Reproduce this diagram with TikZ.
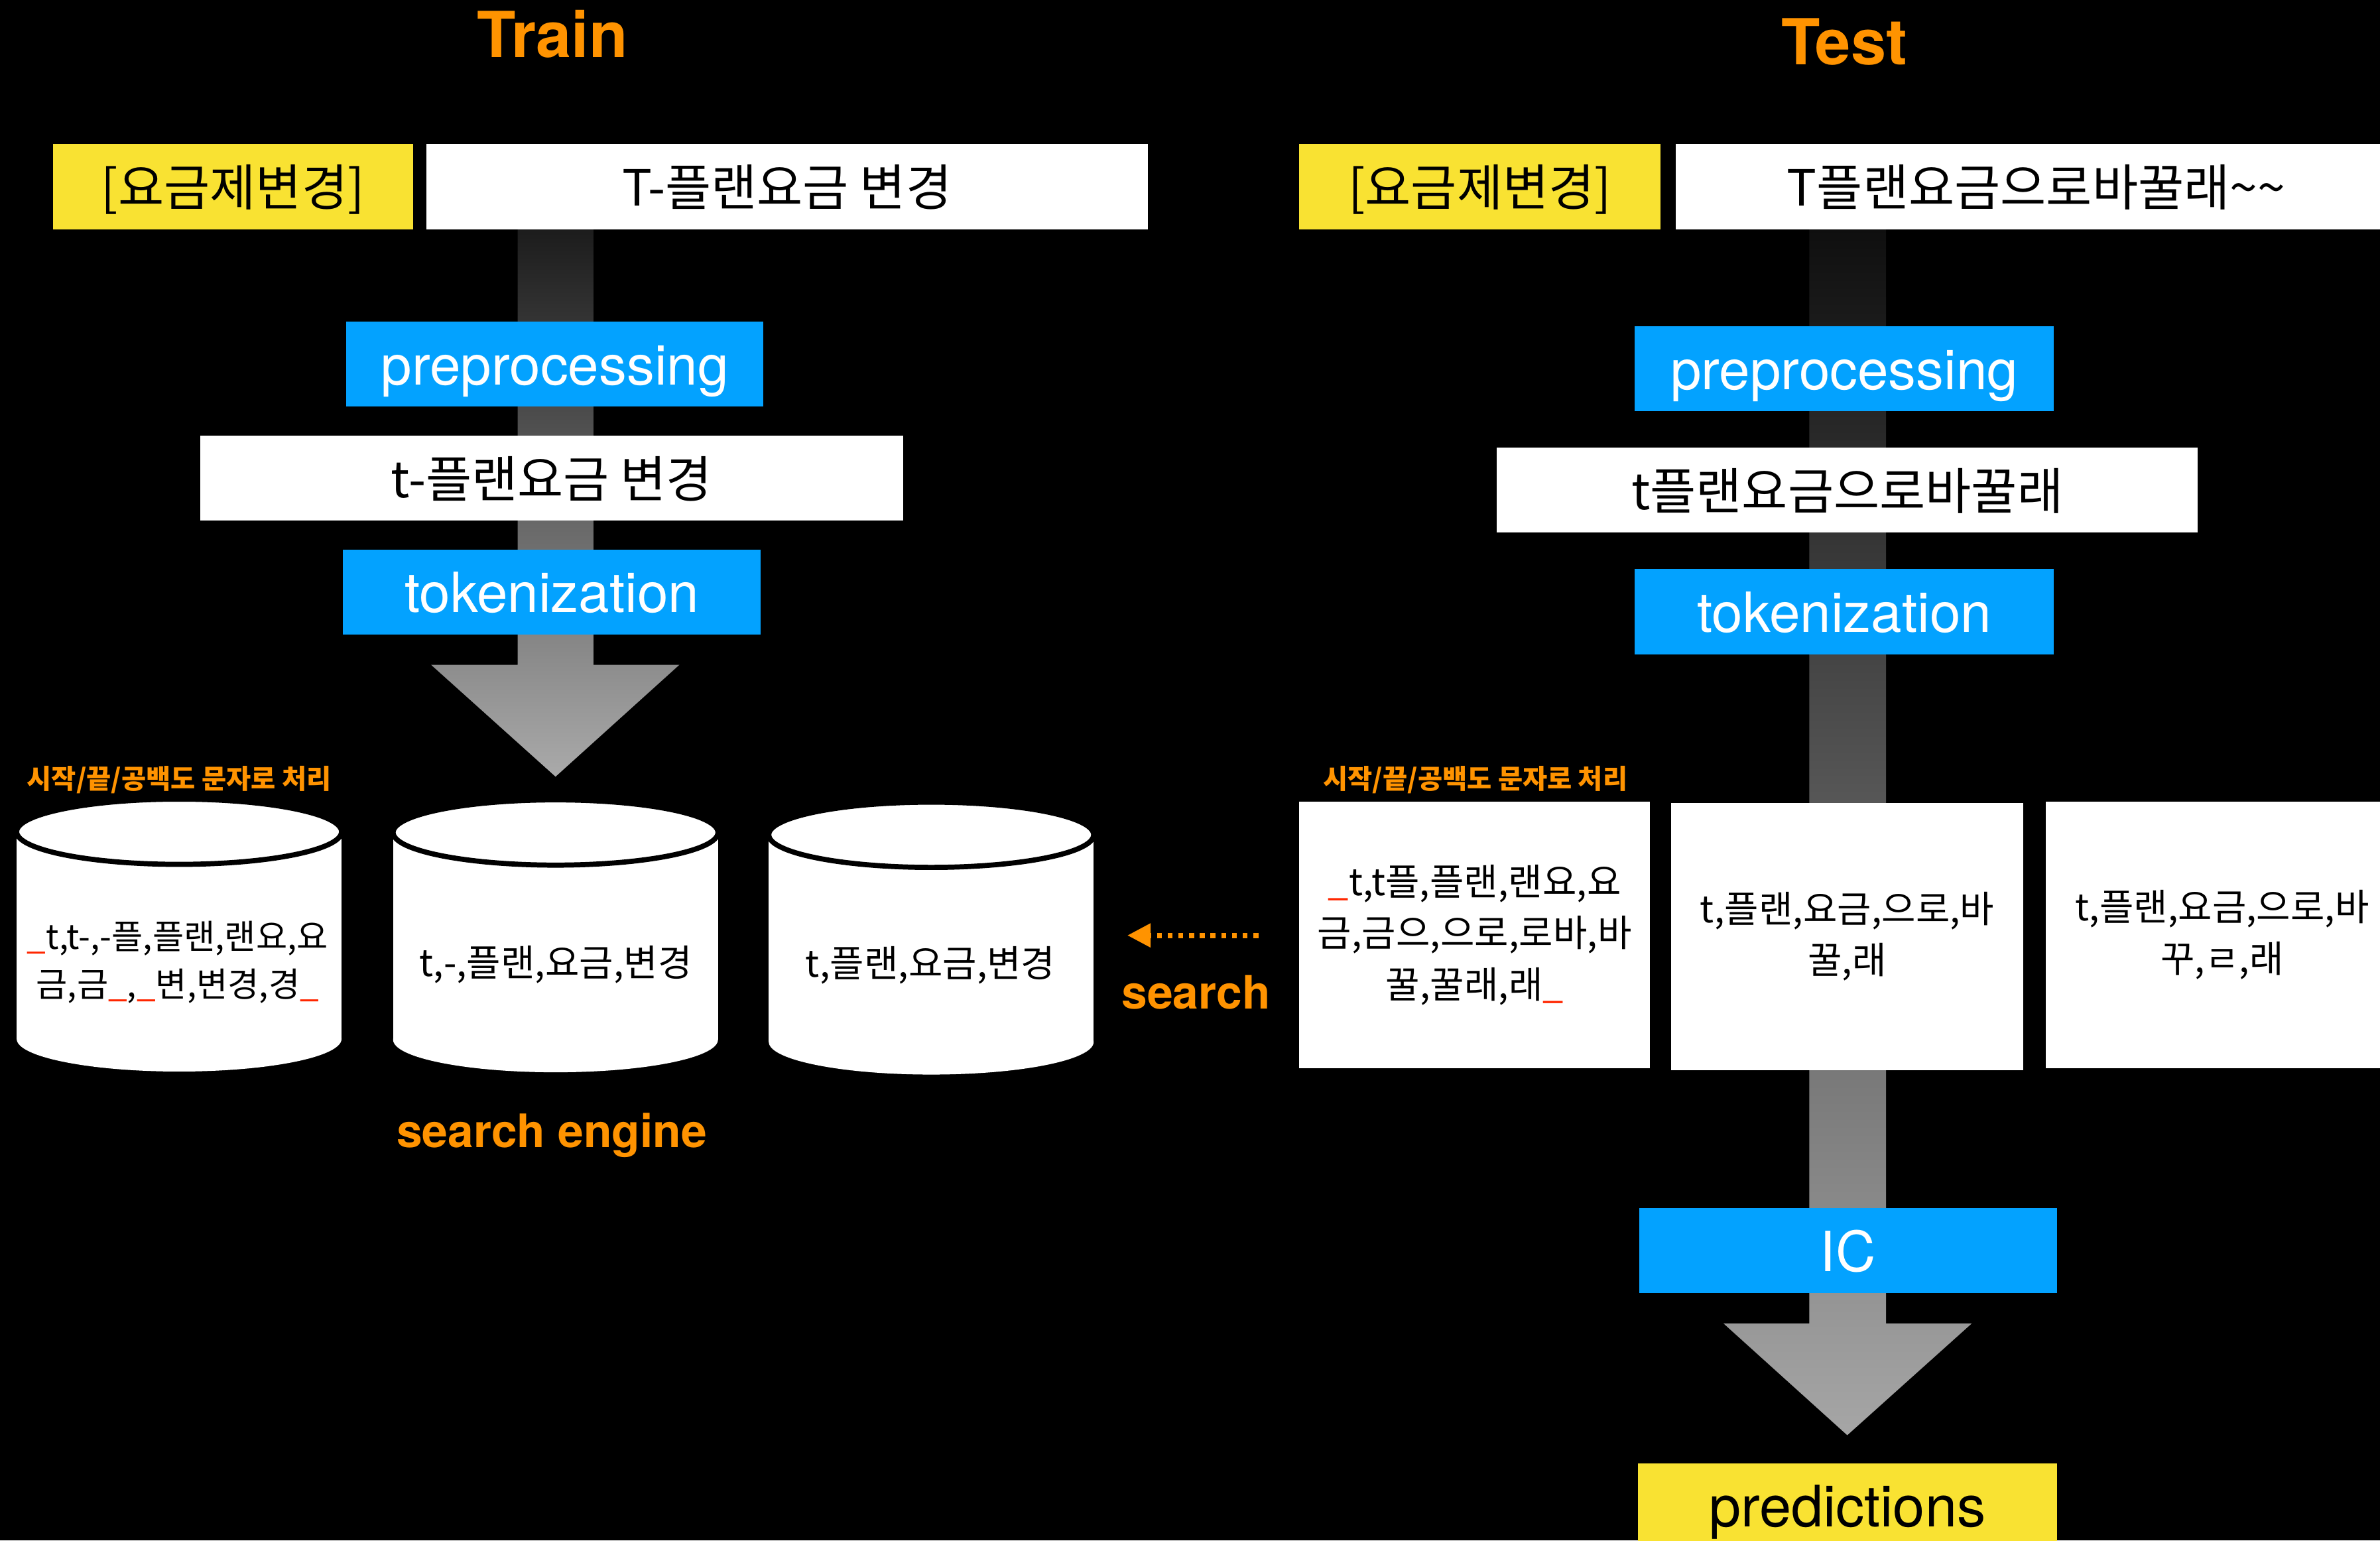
\documentclass[tikz,border=0pt]{standalone}
\usepackage{fontspec}
\setmainfont{TeX Gyre Heros}
\newfontfamily\kr{Noto Sans CJK KR}
\usetikzlibrary{arrows.meta}
\definecolor{blu}{RGB}{3,162,255}
\definecolor{yel}{RGB}{249,226,50}
\definecolor{org}{RGB}{255,147,0}
\definecolor{redu}{RGB}{255,38,0}
\definecolor{gaTop}{RGB}{28,28,28}
\definecolor{gaBot}{RGB}{170,170,170}
\definecolor{gbTop}{RGB}{15,15,15}
\definecolor{gbBot}{RGB}{166,166,166}
\newcommand{\ru}{{\color{redu}\_}}
\tikzset{
  bx/.style={inner sep=0pt, outer sep=0pt, minimum height=36.47pt, anchor=center},
  latf/.style={font=\fontsize{23.8}{24}\selectfont, text height=17.6pt, text depth=0pt},
  korf/.style={font=\kr\fontsize{21.4}{22}\selectfont, text height=17.8pt, text depth=1.3pt},
  bluebox/.style={bx, fill=blu, text=white, latf},
  ylwbox/.style={bx, fill=yel, text=black, korf},
  whtbox/.style={bx, fill=white, text=black, korf},
  predbox/.style={bx, fill=yel, text=black, font=\fontsize{24.6}{25}\selectfont, text height=17.9pt, text depth=0pt},
  tokbox/.style={inner sep=0pt, outer sep=0pt, fill=white, text=black, minimum height=114.6pt,
                 align=center, font=\kr\fontsize{15.9}{22.1}\selectfont},
  cyltext/.style={inner sep=0pt, text=black, align=center, font=\kr\fontsize{15.9}{20.5}\selectfont},
  cylmulti/.style={cyltext, font=\kr\fontsize{14.6}{20.5}\selectfont},
  cylone/.style={cyltext, text height=13.2pt, text depth=1pt},
  orglabel/.style={inner sep=0pt, text=org, font=\kr\bfseries\fontsize{11.5}{12}\selectfont,
                   text height=9.5pt, text depth=0.7pt},
  titletext/.style={inner sep=0pt, text=org, font=\bfseries\fontsize{27.2}{28}\selectfont},
  orgtext/.style={inner sep=0pt, text=org, font=\bfseries\fontsize{19.8}{20}\selectfont},
  searcharrow/.style={draw=org, line width=2.3pt, dash pattern=on 2.1pt off 2.5pt,
                      -{Triangle[length=10pt, width=9.8pt]}},
  cylbody/.style={fill=white},
  cyltop/.style={fill=white, draw=black, line width=2.2pt}
}
\begin{document}
\begin{tikzpicture}[x=0.02289cm, y=-0.02289cm]
\useasboundingbox (0,0) rectangle (1568,1015);
\clip (0,0) rectangle (1568,1015);
\fill[black] (0,0) rectangle (1568,1015);

% big gray flow arrows
\path[top color=gaTop, bottom color=gaBot]
  (341,151) -- (391,151) -- (391,438) -- (447.6,438) -- (366,511.7) -- (284,438) -- (341,438) -- cycle;
\path[top color=gbTop, bottom color=gbBot]
  (1192,151) -- (1242.5,151) -- (1242.5,872) -- (1299,872) -- (1217,945.6) -- (1135.5,872) -- (1192,872) -- cycle;

% titles
\node[titletext, anchor=base] (train) at (364,37.6) {Train};
\node[titletext, anchor=base] (test) at (1215,42.5) {Test};

% train column
\node[ylwbox, minimum width=154.36pt] (tlab) at (153.5,123) {[요금제변경]};
\node[whtbox, minimum width=309.37pt] (tin) at (518.5,123) {T-플랜요금 변경};
\node[bluebox, minimum width=179.11pt] (tpre) at (365.5,240) {preprocessing};
\node[whtbox, minimum width=301.55pt] (tmid) at (363.5,315) {t-플랜요금 변경};
\node[bluebox, minimum width=179.11pt] (ttok) at (363.5,390) {tokenization};

% test column
\node[ylwbox, minimum width=155.0pt] (slab) at (975,123) {[요금제변경]};
\node[whtbox, minimum width=309.37pt] (sin) at (1341.5,123) {T플랜요금으로바꿀래\textasciitilde\textasciitilde};
\node[bluebox, minimum width=179.76pt] (spre) at (1215,243) {preprocessing};
\node[whtbox, minimum width=300.9pt] (smid) at (1217,323) {t플랜요금으로바꿀래};
\node[bluebox, minimum width=179.76pt] (stok) at (1215,403) {tokenization};

% labels
\node[orglabel] (lab1) at (118,513) {시작/끝/공백도 문자로 처리};
\node[orglabel] (lab2) at (972,513) {시작/끝/공백도 문자로 처리};

% cylinders
\fill[cylbody] (11,548) rectangle (225,684.5);
\fill[cylbody] (118,684.5) ellipse [x radius=69.69pt, y radius=14pt];
\filldraw[cyltop] (118,548) ellipse [x radius=69.69pt, y radius=14pt];
\fill[cylbody] (259,548.5) rectangle (473,685);
\fill[cylbody] (366,685) ellipse [x radius=69.69pt, y radius=14pt];
\filldraw[cyltop] (366,548.5) ellipse [x radius=69.69pt, y radius=14pt];
\fill[cylbody] (506.5,550) rectangle (720.5,686.5);
\fill[cylbody] (613.5,686.5) ellipse [x radius=69.69pt, y radius=14pt];
\filldraw[cyltop] (613.5,550) ellipse [x radius=69.69pt, y radius=14pt];

\node[cylmulti] (cy1) at (117,634) {\ru t,t-,-플,플랜,랜요,요\\금,금\ru,\ru 변,변경,경\ru};
\node[cylone] (cy2) at (366,634) {t,-,플랜,요금,변경};
\node[cylone] (cy3) at (613,634.5) {t,플랜,요금,변경};

\node[orgtext, anchor=base] (seng) at (363.5,756) {search engine};

% token boxes (test)
\node[tokbox, minimum width=150.45pt] (tka) at (971.5,616) {\ru t,t플,플랜,랜요,요\\금,금으,으로,로바,바\\꿀,꿀래,래\ru};
\node[tokbox, minimum width=151.1pt] (tkb) at (1217,617) {t,플랜,요금,으로,바\\꿀,래};
\node[tokbox, minimum width=151.1pt] (tkc) at (1464,616) {t,플랜,요금,으로,바\\꾸,ㄹ,래};

% search arrow
\coordinate (sfrom) at (829,616.3);
\coordinate (sto) at (742.7,616.3);
\draw[searcharrow] (sfrom) -- (sto);
\node[orgtext, anchor=base] (srch) at (788,664.8) {search};

% IC and predictions
\node[bluebox, minimum width=179.11pt] (ic) at (1217.5,824) {IC};
\node[predbox, minimum width=179.76pt] (pred) at (1217,992) {predictions};
\end{tikzpicture}
\end{document}
